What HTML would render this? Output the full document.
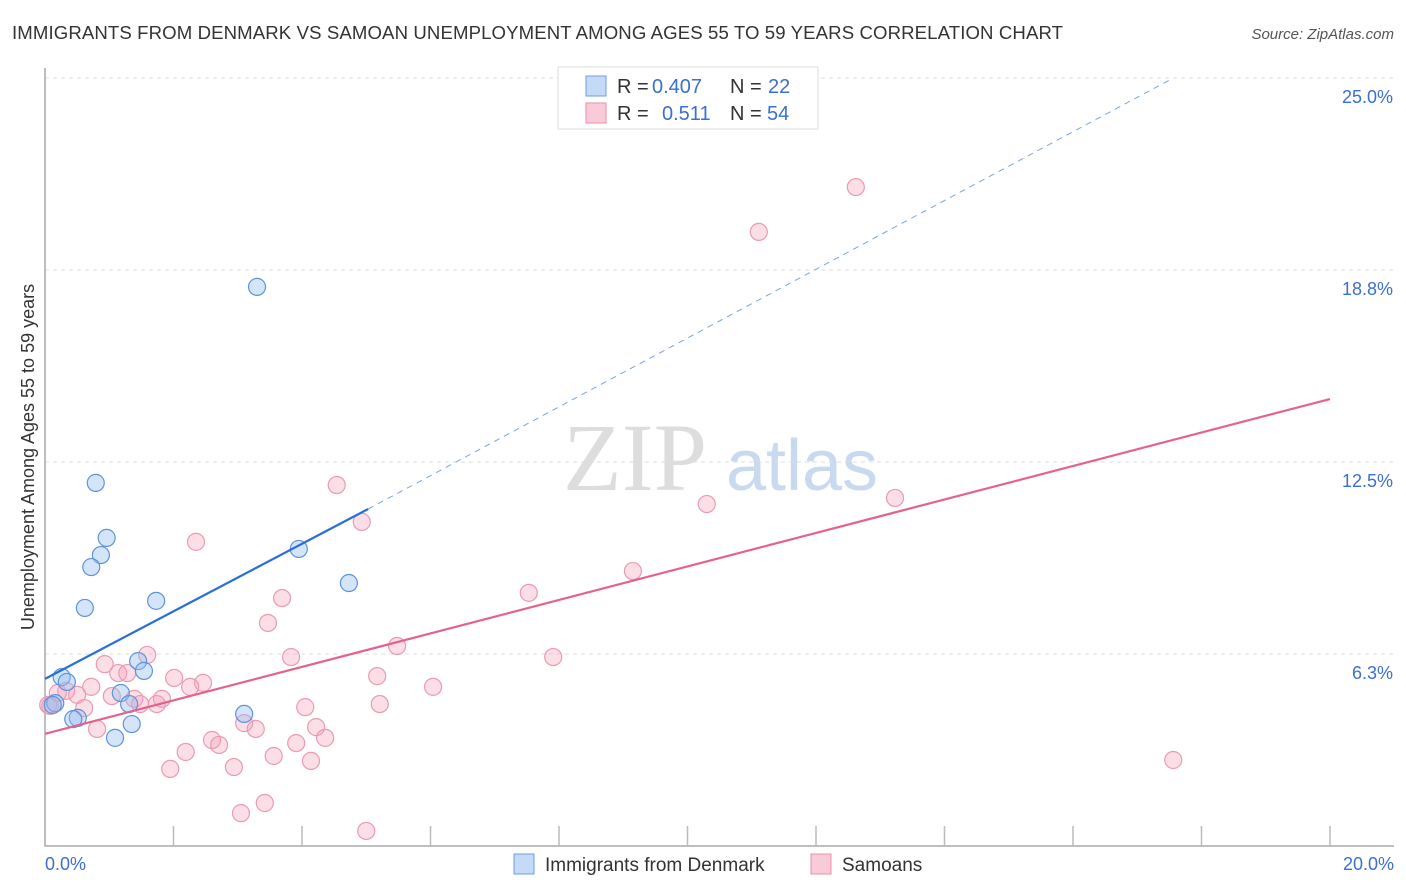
<!DOCTYPE html>
<html><head><meta charset="utf-8"><style>
body{margin:0;background:#fff;font-family:"Liberation Sans",sans-serif;}
svg{display:block}
</style></head><body>
<svg id="chart" width="1406" height="892">
<text x="12" y="39" font-size="18.6" fill="#333" textLength="1051">IMMIGRANTS FROM DENMARK VS SAMOAN UNEMPLOYMENT AMONG AGES 55 TO 59 YEARS CORRELATION CHART</text>
<text x="1394" y="39" font-size="15" fill="#555" font-style="italic" text-anchor="end">Source: ZipAtlas.com</text>
<g>
<text x="635" y="490" font-size="96" font-family="Liberation Serif,serif" fill="#ddd" text-anchor="middle">ZIP</text>
<text x="802" y="490" font-size="72" fill="#c9d9ef" text-anchor="middle">atlas</text>
</g>
<g id="grid"></g>
<g id="axes"></g>
<g id="marks"></g>
<text transform="translate(34,457) rotate(-90)" font-size="18" fill="#333" text-anchor="middle">Unemployment Among Ages 55 to 59 years</text>
<g>
<rect x="558" y="67" width="260" height="62" fill="#fff" stroke="#ddd"/>
<rect x="586" y="76" width="20" height="20" fill="#c5daf6" stroke="#6d9fe0"/>
<rect x="586" y="103" width="20" height="20" fill="#f9cbd8" stroke="#ea8fab"/>
<text x="617" y="93" font-size="20" fill="#333">R =</text>
<text x="652" y="93" font-size="20" fill="#3b6fd0">0.407</text>
<text x="730" y="93" font-size="20" fill="#333">N =</text>
<text x="768" y="93" font-size="20" fill="#3b6fd0">22</text>
<text x="617" y="120" font-size="20" fill="#333">R =</text>
<text x="662" y="120" font-size="20" fill="#3b6fd0">0.511</text>
<text x="730" y="120" font-size="20" fill="#333">N =</text>
<text x="767" y="120" font-size="20" fill="#3b6fd0">54</text>
</g>
<g>
<rect x="514" y="854" width="20" height="20" fill="#c5daf6" stroke="#6d9fe0"/>
<text x="545" y="871" font-size="19" fill="#333">Immigrants from Denmark</text>
<rect x="811" y="854" width="20" height="20" fill="#f9cbd8" stroke="#ea8fab"/>
<text x="842" y="871" font-size="19" fill="#333">Samoans</text>
</g>
</svg>
<script>
const yTicks=[25,18.75,12.5,6.25];
const yTickLabels=["25.0%","18.8%","12.5%","6.3%"];
const xTicks=[2,4,6,8,10,12,14,16,18,20];
const blueX=[3.30,0.79,0.96,0.87,0.72,0.62,1.73,3.95,4.73,1.45,1.54,0.26,0.34,1.18,1.31,0.16,0.12,0.51,0.44,1.35,1.09,3.10];
const blueY=[18.20,11.82,10.03,9.47,9.08,7.75,7.98,9.67,8.56,6.02,5.70,5.50,5.34,4.98,4.62,4.65,4.59,4.17,4.13,3.97,3.52,4.30];
const pinkX=[12.62,11.11,13.23,10.30,4.54,4.93,2.35,9.15,7.53,3.69,3.47,5.48,7.91,1.59,3.83,0.93,1.14,1.28,2.01,2.46,5.17,6.04,0.72,2.26,0.33,0.20,0.50,1.04,1.39,1.82,1.48,1.74,4.05,5.21,0.61,0.05,0.81,3.10,3.28,4.22,2.60,2.71,3.91,4.36,2.19,3.56,4.14,1.95,2.94,17.56,3.42,3.05,5.00,0.08];
const pinkY=[21.45,19.99,11.33,11.13,11.75,10.55,9.90,8.95,8.24,8.07,7.26,6.51,6.15,6.22,6.15,5.92,5.63,5.63,5.47,5.31,5.53,5.18,5.18,5.18,5.05,4.98,4.92,4.88,4.79,4.79,4.62,4.62,4.52,4.62,4.49,4.59,3.81,4.00,3.81,3.87,3.45,3.29,3.35,3.52,3.06,2.93,2.77,2.51,2.57,2.80,1.40,1.07,0.49,4.56];
const blueLine=[0,5.44,5.03,10.97,17.5,24.93];
const pinkLine=[0,3.65,20,14.55];
const NS="http://www.w3.org/2000/svg";
const X=v=>45+v*64.25, Y=v=>846-v*30.72;
function mk(p,t,a){const e=document.createElementNS(NS,t);for(const k in a)e.setAttribute(k,a[k]);p.appendChild(e);return e;}
const grid=document.getElementById('grid'),axes=document.getElementById('axes'),marks=document.getElementById('marks');
yTicks.forEach((t,i)=>{
 const l=mk(grid,'line',{x1:45,x2:1394,y1:Y(t),y2:Y(t),stroke:'#ddd','stroke-dasharray':'4,4'});
 
 
 const tx=mk(axes,'text',{x:1393,y:Y(t)+25,'font-size':18,fill:'#3b6fd0','text-anchor':'end'});tx.textContent=yTickLabels[i];
 
 
});
const ax=mk(axes,'path',{d:'M45 68V846H1394',fill:'none',stroke:'#aaa','stroke-width':1.5});


xTicks.forEach(t=>{
 const l=mk(axes,'line',{x1:X(t),x2:X(t),y1:826,y2:846,stroke:'#bbb','stroke-width':1.5});
 
 
});
const x0=mk(axes,'text',{x:45,y:870,'font-size':18,fill:'#3b6fd0'});x0.textContent='0.0%';


const x1=mk(axes,'text',{x:1394,y:870,'font-size':18,fill:'#3b6fd0','text-anchor':'end'});x1.textContent='20.0%';


pinkX.forEach((v,i)=>{
 const c=mk(marks,'circle',{cx:X(v),cy:Y(pinkY[i]),r:8.5,fill:'rgba(245,160,185,0.35)',stroke:'#ea9ab2','stroke-width':1.2});
 
 
});
blueX.forEach((v,i)=>{
 const c=mk(marks,'circle',{cx:X(v),cy:Y(blueY[i]),r:8.5,fill:'rgba(150,190,240,0.4)',stroke:'#5d93dc','stroke-width':1.2});
 
 
});
const bl=mk(marks,'line',{x1:X(blueLine[0]),y1:Y(blueLine[1]),x2:X(blueLine[2]),y2:Y(blueLine[3]),stroke:'#2a6fd6','stroke-width':2.2});


const bd=mk(marks,'line',{x1:X(blueLine[2]),y1:Y(blueLine[3]),x2:X(blueLine[4]),y2:Y(blueLine[5]),stroke:'#7aa5e0','stroke-width':1,'stroke-dasharray':'6,5'});


const pl=mk(marks,'line',{x1:X(pinkLine[0]),y1:Y(pinkLine[1]),x2:X(pinkLine[2]),y2:Y(pinkLine[3]),stroke:'#e5628c','stroke-width':2.2});


</script>
</body></html>
